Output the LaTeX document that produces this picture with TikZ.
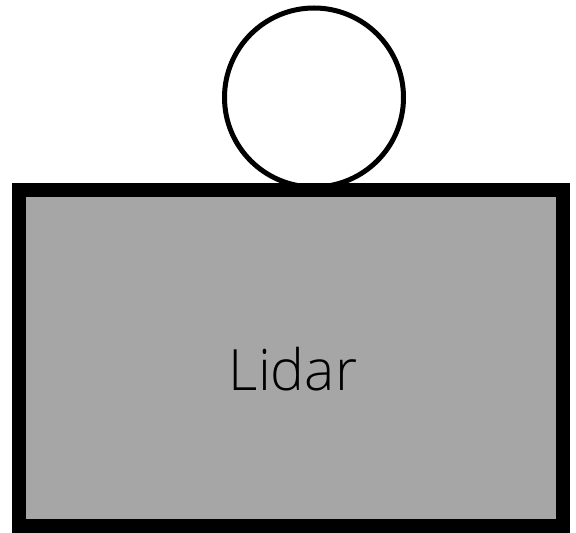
\documentclass[tikz,border=0pt]{standalone}
\usepackage{fontspec}
\setmainfont{Open Sans}[UprightFont={* Light}]
\usetikzlibrary{positioning}
\definecolor{BoxGray}{HTML}{A6A6A6}

\begin{document}
\begin{tikzpicture}[x=1pt, y=1pt]
  \useasboundingbox (0,0) rectangle (576,533);
  % lidar body and sensor dome
  \node[fill=BoxGray, draw=black, line width=14pt,
        minimum width=544pt, minimum height=335.5pt, inner sep=0pt]
        (lidar) at (291,174.75) {};
  \node[circle, draw=black, line width=5pt, minimum size=179pt, inner sep=0pt,
        above=-6pt of lidar.north, xshift=23pt] (dome) {};
  \node[font=\fontsize{57}{66}\selectfont] (lidartext)
        at ([xshift=2pt, yshift=-11pt]lidar.center) {Lidar};
\end{tikzpicture}
\end{document}
